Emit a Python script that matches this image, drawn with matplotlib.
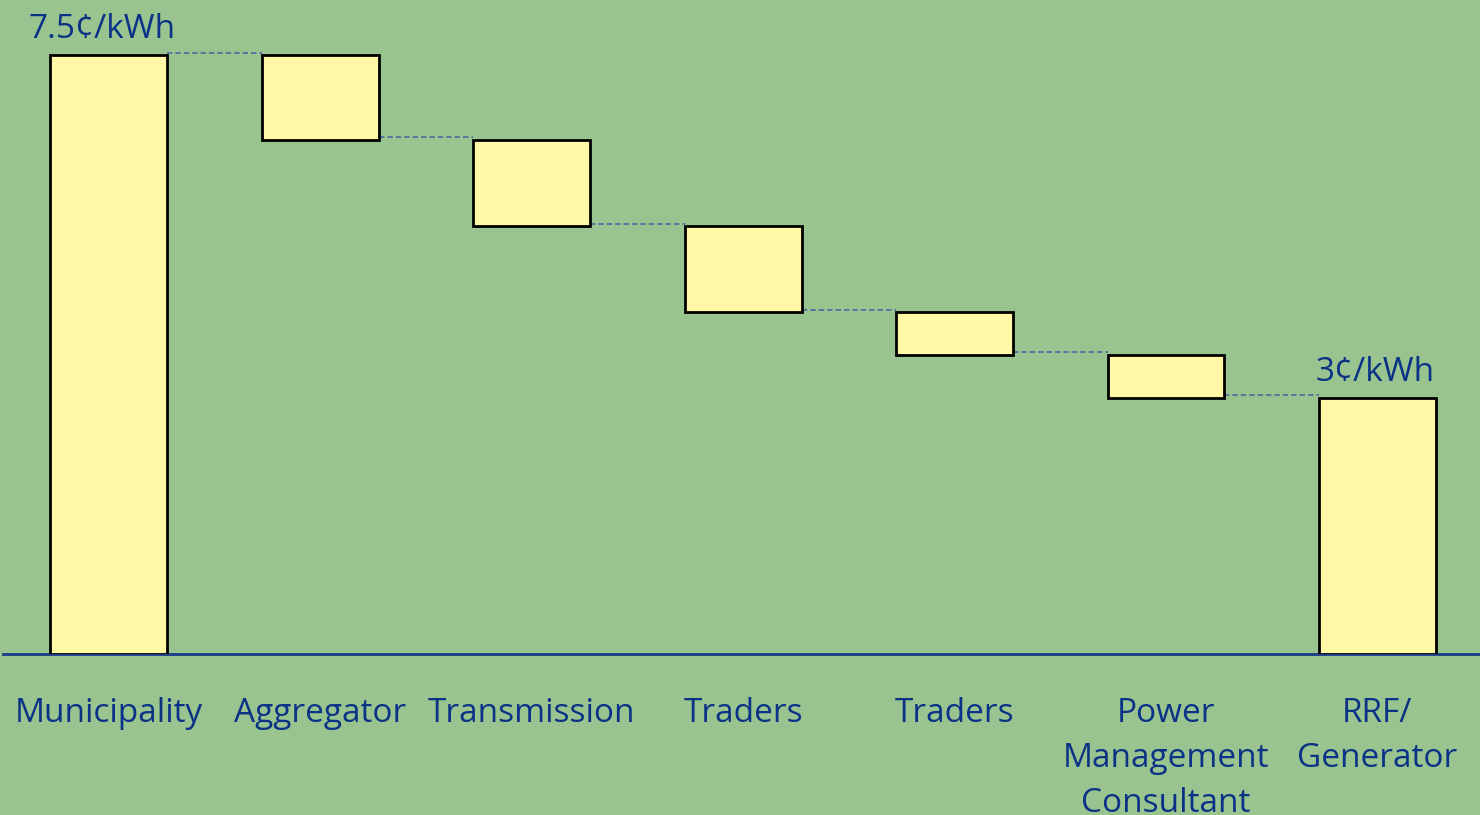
import matplotlib.pyplot as plt

categories = ['Municipality', 'Aggregator', 'Transmission', 'Traders', 'Traders',
              'Power\nManagement\nConsultant', 'RRF/\nGenerator']
start_price = 7.5
drops = [1.06, 1.08, 1.08, 0.53, 0.54]
end_price = 3.21
value_labels = ['7.5¢/kWh', '3¢/kWh']

bg = '#99c48f'
fill = '#fff8a6'
txt = '#0a3286'

# bar bottoms and heights
bottoms = [0]
heights = [start_price]
level = start_price
for d in drops:
    level -= d
    bottoms.append(level)
    heights.append(d)
bottoms.append(0)
heights.append(end_price)

fig = plt.figure(figsize=(14.8, 8.15), dpi=100, facecolor=bg)
ax = fig.add_axes([3 / 1480, 161 / 815, 1 - 3 / 1480, 654 / 815])
ax.set_facecolor(bg)
x = list(range(len(categories)))
w = 0.553
ax.bar(x, heights, bottom=bottoms, width=w, color=fill, edgecolor='black', linewidth=2, zorder=3)

# dashed connectors
for i in range(len(categories) - 1):
    lvl = bottoms[i] + heights[i] if i == 0 else bottoms[i]
    ax.plot([i + w / 2, i + 1 - w / 2], [lvl + 0.03, lvl + 0.03], color='#3f64a6',
            linestyle=(0, (3.5, 2)), linewidth=1.1, zorder=2)

ax.text(-0.03, start_price + 0.11, value_labels[0], ha='center', va='bottom', color=txt,
        fontsize=24, family='Open Sans')
ax.text(len(categories) - 1 - 0.01, end_price + 0.11, value_labels[1], ha='center', va='bottom',
        color=txt, fontsize=24, family='Open Sans')

ax.set_xlim(-0.5, 6.485)
ax.set_ylim(0, 8.19)
for s in ['top', 'right', 'left']:
    ax.spines[s].set_visible(False)
ax.spines['bottom'].set_color('#1a3a8a')
ax.spines['bottom'].set_linewidth(2)
ax.set_yticks([])
ax.set_xticks(x)
ax.set_xticklabels(categories, fontsize=24, color=txt, family='Open Sans', linespacing=1.48)
ax.tick_params(axis='x', length=0, pad=31)

fig.savefig('out.png', dpi=100, facecolor=bg)
